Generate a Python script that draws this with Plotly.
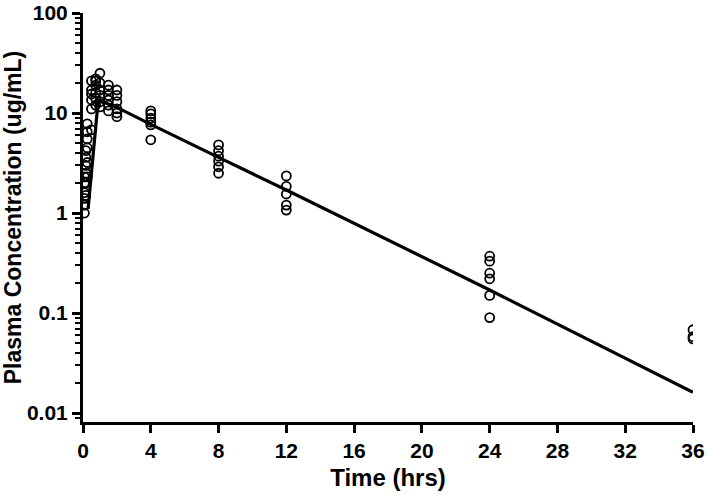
import plotly.graph_objects as go

# Observed concentrations (ug/mL) by sampling time (hrs)
obs_time = (
    [0.083] * 6 + [0.167] * 6 + [0.25] * 6 + [0.5] * 6 + [0.75] * 6 +
    [1.0] * 6 + [1.5] * 6 + [2.0] * 6 + [4.0] * 6 + [8.0] * 6 +
    [12.0] * 5 + [24.0] * 6 + [36.0] * 3
)
obs_conc = (
    [1.0, 1.2, 1.4, 1.6, 2.0, 2.3] +
    [1.5, 2.0, 2.5, 3.0, 3.6, 4.2] +
    [2.3, 3.2, 4.5, 5.5, 6.5, 7.8] +
    [6.8, 11.0, 13.5, 15.5, 17.0, 21.0] +
    [12.0, 14.0, 16.0, 19.0, 21.0, 22.0] +
    [11.5, 13.0, 15.0, 17.0, 20.0, 25.0] +
    [10.5, 12.0, 13.5, 15.0, 17.0, 19.0] +
    [9.2, 10.0, 11.0, 13.0, 15.0, 17.0] +
    [10.5, 9.8, 8.9, 8.1, 7.6, 5.4] +
    [4.8, 4.2, 3.7, 3.3, 2.9, 2.5] +
    [2.35, 1.85, 1.55, 1.2, 1.07] +
    [0.37, 0.33, 0.25, 0.22, 0.15, 0.09] +
    [0.068, 0.058, 0.055]
)

# Fitted model curve
fit_time = [0.3, 0.9, 2.0, 4.0, 8.0, 12.0, 24.0, 36.0]
fit_conc = [1.1, 13.5, 11.4, 7.7, 3.6, 1.7, 0.17, 0.0161]

x_ticks = [0, 4, 8, 12, 16, 20, 24, 28, 32, 36]
y_ticks = [0.01, 0.1, 1, 10, 100]
y_tick_text = ["0.01", "0.1", "1", "10", "100"]

FONT = "Liberation Sans, Arial, sans-serif"

fig = go.Figure()
fig.add_trace(go.Scatter(
    x=fit_time, y=fit_conc, mode="lines",
    line=dict(color="black", width=3.2),
    hoverinfo="skip", showlegend=False,
))
fig.add_trace(go.Scatter(
    x=obs_time, y=obs_conc, mode="markers",
    marker=dict(symbol="circle-open", size=9, color="black",
                line=dict(width=1.8, color="black")),
    showlegend=False,
))

fig.update_layout(
    width=709, height=499,
    margin=dict(l=83, r=16, t=13, b=77, autoexpand=False),
    paper_bgcolor="white", plot_bgcolor="white",
    font=dict(family=FONT, color="black"),
    xaxis=dict(
        range=[0, 36], tickvals=x_ticks,
        showline=True, linecolor="black", linewidth=3,
        ticks="outside", ticklen=8, tickwidth=3, tickcolor="black",
        showgrid=False, zeroline=False,
        tickfont=dict(family=FONT, size=21, color="black", weight="bold"),
        title=dict(text="<b>Time (hrs)</b>", font=dict(family=FONT, size=24, color="black"),
                   standoff=8),
    ),
    yaxis=dict(
        type="log", range=[-2.09, 2.0005],
        tickvals=y_ticks, ticktext=y_tick_text,
        showline=True, linecolor="black", linewidth=3,
        ticks="outside", ticklen=8, tickwidth=3, tickcolor="black",
        minor=dict(ticks="outside", ticklen=5, tickwidth=2, tickcolor="black", dtick="D1"),
        showgrid=False, zeroline=False,
        tickfont=dict(family=FONT, size=21, color="black", weight="bold"),
        title=dict(text="<b>Plasma Concentration (ug/mL)</b>",
                   font=dict(family=FONT, size=23, color="black"), standoff=7),
    ),
)

# remove the page's default body margin and scrollbars so the figure fills the window
fig.write_html(
    "out.html",
    config={"displayModeBar": False},
    post_script="document.body.style.margin='0';document.body.style.overflow='hidden';",
)
